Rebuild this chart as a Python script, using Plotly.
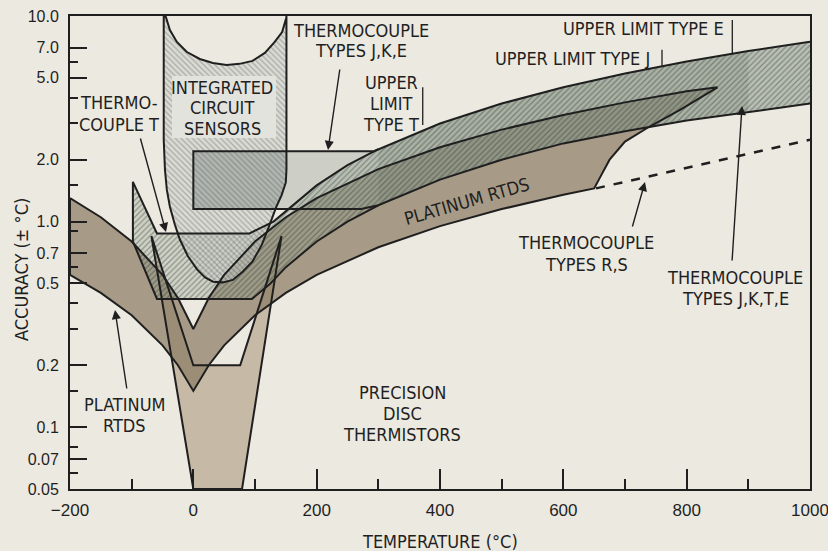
import plotly.graph_objects as go

# ---------------- data: temperature (°C) vs accuracy (± °C) ----------------
# Precision disc thermistors: outer (best) V with flat 0.05 floor, inner (worst) V with flat 0.2 floor
therm_T = [0, 79, 143, 76, 0, -68]
therm_acc = [0.05, 0.05, 0.85, 0.2, 0.2, 0.85]

# Platinum RTDs: upper (class B) edge, closing edge at the hot end, lower (class A) edge
rtd_upper_T = [-200, -150, -100, -50, -25, 0, 25, 50, 100, 150, 200, 300, 400, 500, 600, 700, 800, 850]
rtd_upper_acc = [1.3, 1.05, 0.8, 0.55, 0.425, 0.3, 0.425, 0.55, 0.8, 1.05, 1.3, 1.8, 2.3, 2.8, 3.3, 3.8, 4.3, 4.5]
rtd_end_T = [790, 740, 700, 675, 660, 650]
rtd_end_acc = [3.5, 2.9, 2.45, 2.0, 1.65, 1.45]
rtd_lower_T = [600, 500, 400, 300, 200, 150, 100, 50, 25, 0, -25, -50, -100, -150, -200]
rtd_lower_acc = [1.35, 1.15, 0.95, 0.75, 0.55, 0.45, 0.35, 0.25, 0.2, 0.15, 0.2, 0.25, 0.35, 0.45, 0.55]

# Thermocouple type T
tct_upper_T = [300, 250, 200, 150, 130, 91, -59, -98]
tct_upper_acc = [2.25, 1.88, 1.5, 1.13, 1.0, 0.875, 0.875, 1.56]
tct_lower_T = [-98, -59, 95, 125, 150, 200, 250, 300]
tct_lower_acc = [0.8, 0.42, 0.42, 0.5, 0.6, 0.8, 1.0, 1.2]

# Thermocouple types J, K, E (flat box at low temperature, then proportional band)
jke_upper_T = [0, 293, 300, 400, 500, 600, 700, 800, 900, 1000]
jke_upper_acc = [2.2, 2.2, 2.25, 3.0, 3.75, 4.5, 5.25, 6.0, 6.75, 7.5]
jke_lower_T = [0, 272, 300, 400, 500, 600, 700, 800, 900, 1000]
jke_lower_acc = [1.15, 1.15, 1.2, 1.6, 2.0, 2.4, 2.75, 3.1, 3.4, 3.75]

# Integrated circuit sensors: outer U (down the cold side, up the hot side) and inner arc
ic_outer_T = [-48, -48, -46, -43, -38, -30, -22, -9, 6, 19, 32, 48, 64, 80, 96, 111, 124, 134, 143, 150, 151, 151]
ic_outer_acc = [10, 2.5, 1.79, 1.43, 1.18, 0.967, 0.82, 0.68, 0.585, 0.535, 0.51, 0.506, 0.52, 0.57,
                0.64, 0.77, 0.97, 1.17, 1.34, 1.55, 1.79, 10]
ic_inner_T = [150.6, 144, 132, 116, 96, 75, 54, 31.6, 10.5, -10.5, -26.7, -38, -44.5]
ic_inner_acc = [9.78, 8.36, 7.48, 6.61, 6.05, 5.85, 5.78, 5.91, 6.18, 6.68, 7.48, 8.55, 9.89]

# Part of the J,K,E box lying inside the IC-sensor region
ic_box_T = [0, 0, 151, 151, 150, 143, 134, 131]
ic_box_acc = [1.15, 2.2, 2.2, 1.79, 1.55, 1.34, 1.17, 1.15]

# Thermocouple types R, S (dashed)
rs_T = [653, 1000]
rs_acc = [1.45, 2.5]

# Upper temperature limits (T, J, E) with the extent of their marker strokes
limit_T = [372, 760, 874]
limit_lo = [2.95, 5.65, 6.6]
limit_hi = [4.5, 6.85, 9.56]

# Axis ticks
x_ticks = [-200, 0, 200, 400, 600, 800, 1000]
x_ticktext = ["\u2212200", "0", "200", "400", "600", "800", "1000"]
x_minor = [-100, 100, 300, 500, 700, 900]
y_ticks = [10, 7, 5, 2, 1, 0.7, 0.5, 0.2, 0.1, 0.07, 0.05]
y_ticktext = ["10.0", "7.0", "5.0", "2.0", "1.0", "0.7", "0.5", "0.2", "0.1", "0.07", "0.05"]
y_minor = [6, 4, 3, 1.5, 0.9, 0.6, 0.4, 0.3, 0.15, 0.08, 0.06]

# ---------------- styling ----------------
NARROW = "Liberation Sans Narrow, DejaVu Sans Condensed, Arial Narrow, sans-serif"
REG = "Liberation Sans, Arial, sans-serif"
INK = "#1f1f1f"
BG = "#ece9e0"
W, H = 828, 551
ML, MR, MT, MB = 70, 18, 16, 62


def px2x(px):
    return (px - ML) / (W - ML - MR)


def py2y(py):
    return (H - MB - py) / (H - MT - MB)


def fill(xs, ys, color, pattern=None):
    kw = dict(x=xs, y=ys, mode="lines", fill="toself", fillcolor=color,
              line=dict(width=0), hoverinfo="skip", showlegend=False)
    if pattern:
        kw["fillpattern"] = pattern
    return go.Scatter(**kw)


def stroke(xs, ys, close=False, width=2, dash=None):
    if close:
        xs, ys = list(xs) + [xs[0]], list(ys) + [ys[0]]
    return go.Scatter(x=xs, y=ys, mode="lines", hoverinfo="skip", showlegend=False,
                      line=dict(color=INK, width=width, dash=dash))


def hatch(shape, fg, bg):
    return dict(shape=shape, size=4, solidity=0.3, fgcolor=fg, bgcolor=bg)


rtd_T = rtd_upper_T + rtd_end_T + rtd_lower_T
rtd_acc = rtd_upper_acc + rtd_end_acc + rtd_lower_acc
tct_T = tct_upper_T + tct_lower_T
tct_acc = tct_upper_acc + tct_lower_acc
jke_T = jke_upper_T + jke_lower_T[::-1]
jke_acc = jke_upper_acc + jke_lower_acc[::-1]
ic_T = ic_outer_T + ic_inner_T
ic_acc = ic_outer_acc + ic_inner_acc


def band_part(t_min, t_max):
    up = [(t, a) for t, a in zip(jke_upper_T, jke_upper_acc) if t_min <= t <= t_max]
    lo = [(t, a) for t, a in zip(jke_lower_T, jke_lower_acc) if t_min <= t <= t_max][::-1]
    pts = up + lo
    return [p[0] for p in pts], [p[1] for p in pts]


band_x, band_y = band_part(300, 1000)
band_dark_x, band_dark_y = band_part(300, 900)

TC_HATCH = hatch("/", "rgba(40,50,40,0.8)", "rgba(140,155,140,0.3)")
IC_HATCH = hatch("\\", "rgba(60,65,60,0.65)", "rgba(205,207,203,0.55)")

fig = go.Figure()

# filled regions
fig.add_trace(fill(therm_T, therm_acc, "rgba(185,168,145,0.75)"))
fig.add_trace(fill(rtd_T, rtd_acc, "rgba(140,125,100,0.72)"))
fig.add_trace(fill(jke_T, jke_acc, "rgba(150,160,150,0.35)"))
fig.add_trace(fill(band_dark_x, band_dark_y, "rgba(95,105,90,0.2)"))
fig.add_trace(fill(band_x, band_y, "rgba(140,155,140,0.3)", TC_HATCH))
fig.add_trace(fill(tct_T, tct_acc, "rgba(140,155,140,0.3)", TC_HATCH))
fig.add_trace(fill(ic_box_T, ic_box_acc, "rgba(80,100,85,0.5)"))
fig.add_trace(fill(ic_T, ic_acc, "rgba(205,207,203,0.55)", IC_HATCH))

# outlines
fig.add_trace(stroke(therm_T, therm_acc, close=True))
fig.add_trace(stroke(rtd_T, rtd_acc, close=True))
fig.add_trace(stroke(tct_T, tct_acc))
fig.add_trace(stroke(jke_upper_T[::-1] + jke_lower_T, jke_upper_acc[::-1] + jke_lower_acc))
fig.add_trace(stroke(ic_T, ic_acc, close=True))
fig.add_trace(stroke(rs_T, rs_acc, width=2.5, dash="dash"))
for t, lo, hi in zip(limit_T, limit_lo, limit_hi):
    fig.add_trace(stroke([t, t], [lo, hi], width=1.3))

# text box behind the IC-sensor label
fig.add_shape(type="rect", xref="paper", yref="paper",
              x0=px2x(172), x1=px2x(276), y0=py2y(138), y1=py2y(76),
              fillcolor="#e3e3de", line=dict(width=0), layer="above")


def label(lines, x, y0, dy=21, size=18, angle=0):
    for i, s in enumerate(lines):
        fig.add_annotation(x=px2x(x), y=py2y(y0 + i * dy), xref="paper", yref="paper",
                           text=s, showarrow=False, textangle=angle,
                           font=dict(family=NARROW, size=size, color=INK),
                           xanchor="center", yanchor="middle")


def arrow(tail, head):
    fig.add_annotation(x=px2x(head[0]), y=py2y(head[1]), xref="paper", yref="paper",
                       ax=tail[0] - head[0], ay=tail[1] - head[1],
                       axref="pixel", ayref="pixel", text="", showarrow=True,
                       arrowhead=2, arrowsize=1.3, arrowwidth=1.4, arrowcolor=INK, standoff=0)


label(["THERMOCOUPLE", "TYPES J,K,E"], 361, 30, dy=20)
arrow((340, 68), (328, 150))
label(["UPPER", "LIMIT", "TYPE T"], 391, 82, dy=21.5)
label(["UPPER LIMIT TYPE E"], 643, 29)
label(["UPPER LIMIT TYPE J"], 572, 58)
label(["INTEGRATED", "CIRCUIT", "SENSORS"], 222, 87, dy=20.5)
label(["THERMO-", "COUPLE T"], 119, 103, dy=22)
arrow((140, 137), (166, 232))
label(["PLATINUM RTDS"], 466, 201, angle=-16)
label(["PLATINUM", "RTDS"], 124, 404, dy=21)
arrow((127, 390), (115, 310))
label(["PRECISION", "DISC", "THERMISTORS"], 402, 392, dy=21)
label(["THERMOCOUPLE", "TYPES R,S"], 586, 242, dy=22)
arrow((632, 228), (645, 182))
label(["THERMOCOUPLE", "TYPES J,K,T,E"], 735, 277, dy=21)
arrow((732, 262), (742, 106))

# axis titles
fig.add_annotation(x=px2x(21), y=py2y(270), xref="paper", yref="paper", text="ACCURACY (\u00b1 \u00b0C)",
                   showarrow=False, textangle=-90, xanchor="center", yanchor="middle",
                   font=dict(family=NARROW, size=18, color=INK))
fig.add_annotation(x=px2x(440), y=py2y(541), xref="paper", yref="paper", text="TEMPERATURE (\u00b0C)",
                   showarrow=False, xanchor="center", yanchor="middle",
                   font=dict(family=NARROW, size=18, color=INK))

fig.update_xaxes(range=[-200, 1000], tickmode="array", tickvals=x_ticks, ticktext=x_ticktext,
                 ticks="inside", ticklen=20, tickwidth=2, tickcolor=INK,
                 minor=dict(tickmode="array", tickvals=x_minor, ticks="inside", ticklen=10,
                            tickwidth=2, tickcolor=INK),
                 showline=True, linecolor=INK, linewidth=2, mirror=True, showgrid=False,
                 zeroline=False, ticklabelstandoff=5, ticklabeloverflow="allow", automargin=False,
                 tickfont=dict(family=REG, size=17, color=INK))
fig.update_yaxes(type="log", range=[-1.30103, 1], tickmode="array", tickvals=y_ticks,
                 ticktext=y_ticktext, ticks="inside", ticklen=17, tickwidth=2, tickcolor=INK,
                 minor=dict(tickmode="array", tickvals=y_minor, ticks="inside", ticklen=8,
                            tickwidth=2, tickcolor=INK),
                 showline=True, linecolor=INK, linewidth=2, mirror=True, showgrid=False,
                 zeroline=False, ticklabelstandoff=6, automargin=False,
                 tickfont=dict(family=REG, size=16, color=INK))

fig.update_layout(width=W, height=H, margin=dict(l=ML, r=MR, t=MT, b=MB, autoexpand=False),
                  paper_bgcolor=BG, plot_bgcolor=BG, showlegend=False)

fig.write_html("out.html")
